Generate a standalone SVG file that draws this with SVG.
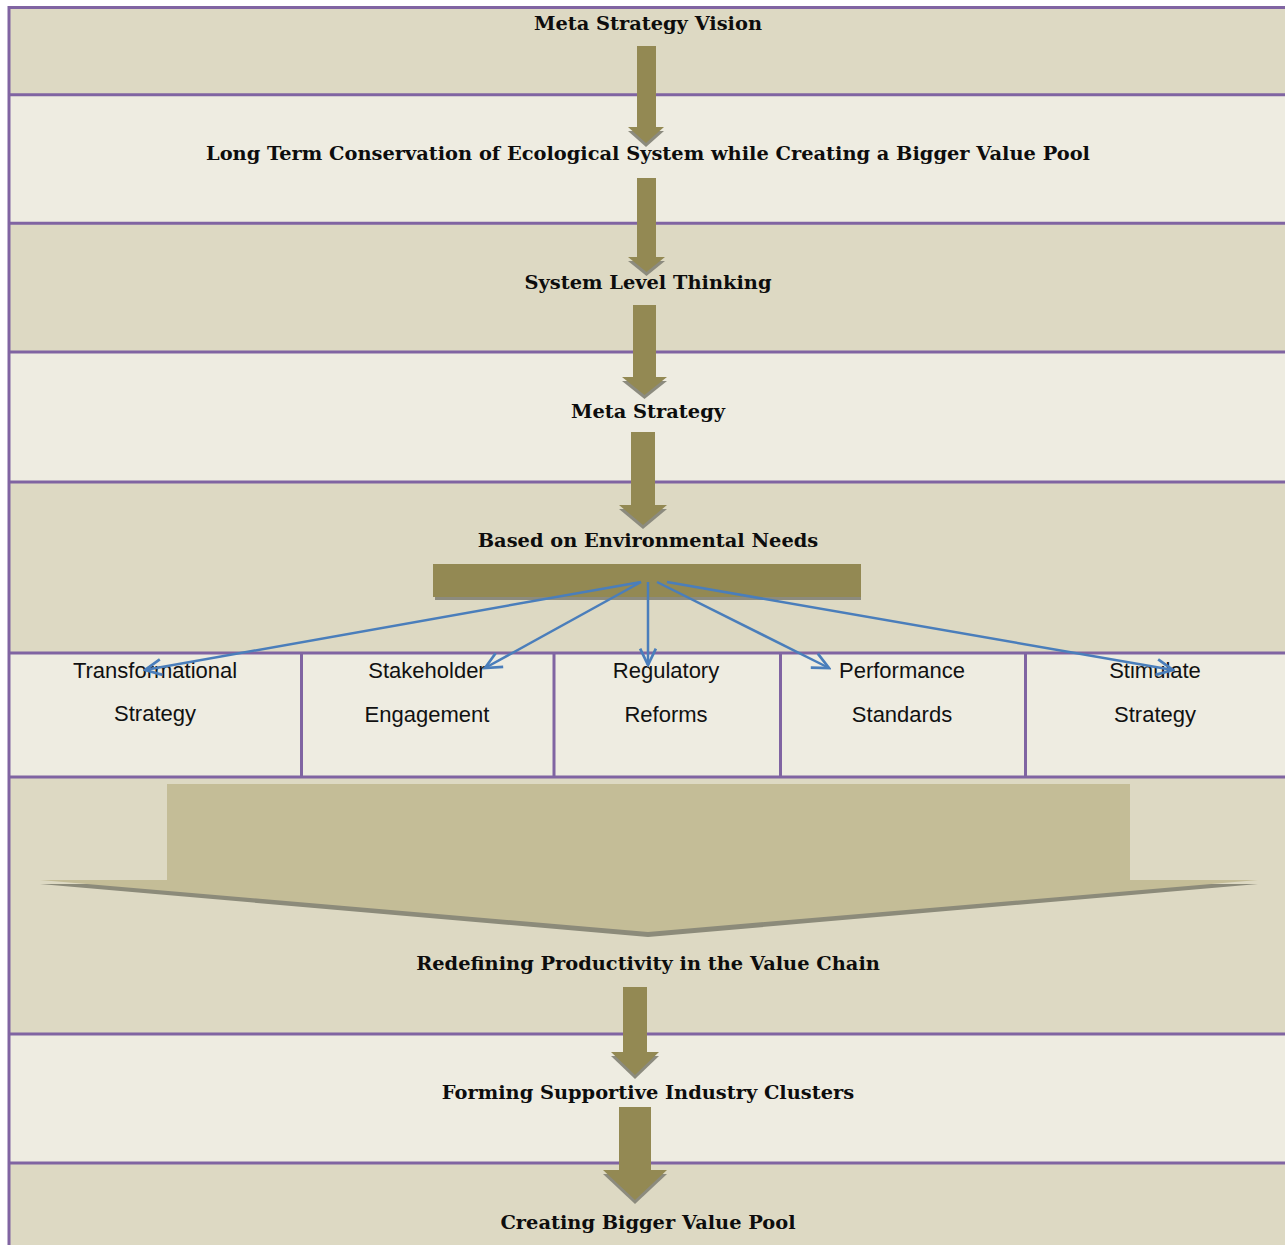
<svg xmlns="http://www.w3.org/2000/svg" width="1285" height="1245" viewBox="0 0 1285 1245">
  <defs>
    <style>
      .dark { fill: #DDD9C3; }
      .light { fill: #EEECE1; }
      .rule { stroke: #8064A2; stroke-width: 3; fill: none; }
      .step { fill: #938953; }
      .shade { fill: #8C8B7E; }
      .head { font-family: "DejaVu Serif", serif; font-weight: bold; font-size: 19.4px; fill: #0D0D0D; text-anchor: middle; }
      .cell { font-family: "Liberation Sans", Arial, sans-serif; font-size: 22px; fill: #111; text-anchor: middle; }
      .link { stroke: #4A7EBB; stroke-width: 2.5; fill: none; marker-end: url(#open); }
    </style>
    <marker id="open" viewBox="0 0 14 14" refX="12.5" refY="7" markerWidth="20" markerHeight="20" markerUnits="userSpaceOnUse" orient="auto">
      <path d="M1,1.5 L12.5,7 L1,12.5" fill="none" stroke="#4A7EBB" stroke-width="1.9"/>
    </marker>
  </defs>

  <rect x="0" y="0" width="1285" height="1245" fill="#FFFFFF"/>

  <!-- table bands -->
  <g id="bands">
    <rect class="dark" x="9" y="7.5" width="1276" height="87.2"/>
    <rect class="light" x="9" y="94.7" width="1276" height="128.6"/>
    <rect class="dark" x="9" y="223.3" width="1276" height="128.7"/>
    <rect class="light" x="9" y="352" width="1276" height="130"/>
    <rect class="dark" x="9" y="482" width="1276" height="171"/>
    <rect class="light" x="9" y="653" width="1276" height="124"/>
    <rect class="dark" x="9" y="777" width="1276" height="257"/>
    <rect class="light" x="9" y="1034" width="1276" height="129"/>
    <rect class="dark" x="9" y="1163" width="1276" height="82"/>
  </g>

  <!-- table rules -->
  <g id="rules">
    <path class="rule" d="M9,7.5 H1285 M9,94.7 H1285 M9,223.3 H1285 M9,352 H1285 M9,482 H1285 M9,653 H1285 M9,777 H1285 M9,1034 H1285 M9,1163 H1285"/>
    <path class="rule" d="M9,6 V1245"/>
    <path class="rule" d="M301.5,653 V777 M554,653 V777 M780.5,653 V777 M1025.5,653 V777"/>
  </g>

  <!-- stage labels -->
  <g id="n-vision"><text class="head" x="648" y="30">Meta Strategy Vision</text></g>
  <g id="n-conservation"><text class="head" x="648" y="160">Long Term Conservation of Ecological System while Creating a Bigger Value Pool</text></g>
  <g id="n-system"><text class="head" x="648" y="289">System Level Thinking</text></g>
  <g id="n-meta"><text class="head" x="648" y="418">Meta Strategy</text></g>
  <g id="n-needs"><text class="head" x="648" y="547">Based on Environmental Needs</text></g>

  <!-- strategy cells -->
  <g id="n-transformational">
    <text class="cell" x="155" y="678">Transformational</text>
    <text class="cell" x="155" y="721">Strategy</text>
  </g>
  <g id="n-stakeholder">
    <text class="cell" x="427" y="678">Stakeholder</text>
    <text class="cell" x="427" y="722">Engagement</text>
  </g>
  <g id="n-regulatory">
    <text class="cell" x="666" y="678">Regulatory</text>
    <text class="cell" x="666" y="722">Reforms</text>
  </g>
  <g id="n-performance">
    <text class="cell" x="902" y="678">Performance</text>
    <text class="cell" x="902" y="722">Standards</text>
  </g>
  <g id="n-stimulate">
    <text class="cell" x="1155" y="678">Stimulate</text>
    <text class="cell" x="1155" y="722">Strategy</text>
  </g>

  <g id="n-productivity"><text class="head" x="648" y="970">Redefining Productivity in the Value Chain</text></g>
  <g id="n-clusters"><text class="head" x="648" y="1099">Forming Supportive Industry Clusters</text></g>
  <g id="n-pool"><text class="head" x="648" y="1229">Creating Bigger Value Pool</text></g>

  <!-- connectors -->
  <g id="connectors">
    <!-- block arrows between stages (shadow first, then body) -->
    <polygon class="shade" points="628,131 664,131 646,147"/>
    <polygon class="step" points="637,46 656,46 656,127 664,127 646,143 628,127 637,127"/>

    <polygon class="shade" points="628,261 665,261 646.5,276"/>
    <polygon class="step" points="637,178 656,178 656,257 665,257 646.5,272 628,257 637,257"/>

    <polygon class="shade" points="622,381 667,381 644.5,399"/>
    <polygon class="step" points="633,305 656,305 656,377 667,377 644.5,395 622,377 633,377"/>

    <polygon class="shade" points="619,509 667,509 643,529"/>
    <polygon class="step" points="631,432 655,432 655,505 667,505 643,525 619,505 631,505"/>

    <!-- distribution bar -->
    <rect class="shade" x="435" y="567" width="426" height="33"/>
    <rect class="step" x="433" y="564" width="428" height="33"/>

    <!-- fan-out links -->
    <line class="link" x1="641" y1="582" x2="145" y2="670"/>
    <line class="link" x1="641" y1="582" x2="485" y2="668"/>
    <line class="link" x1="648" y1="582" x2="648" y2="665"/>
    <line class="link" x1="657" y1="582" x2="829" y2="668"/>
    <line class="link" x1="667" y1="582" x2="1173" y2="670"/>

    <!-- wide merge arrow -->
    <polygon fill="#8C8B7A" points="40,884 1258,884 648,937"/>
    <polygon fill="#C4BD97" points="167,784 1130,784 1130,880 1258,880 648,932 40,880 167,880"/>

    <polygon class="shade" points="611,1056 659,1056 635,1079"/>
    <polygon class="step" points="623,987 647,987 647,1052 659,1052 635,1075 611,1052 623,1052"/>

    <polygon class="shade" points="603,1174 667,1174 635,1204"/>
    <polygon class="step" points="619,1107 651,1107 651,1170 667,1170 635,1200 603,1170 619,1170"/>
  </g>
</svg>
